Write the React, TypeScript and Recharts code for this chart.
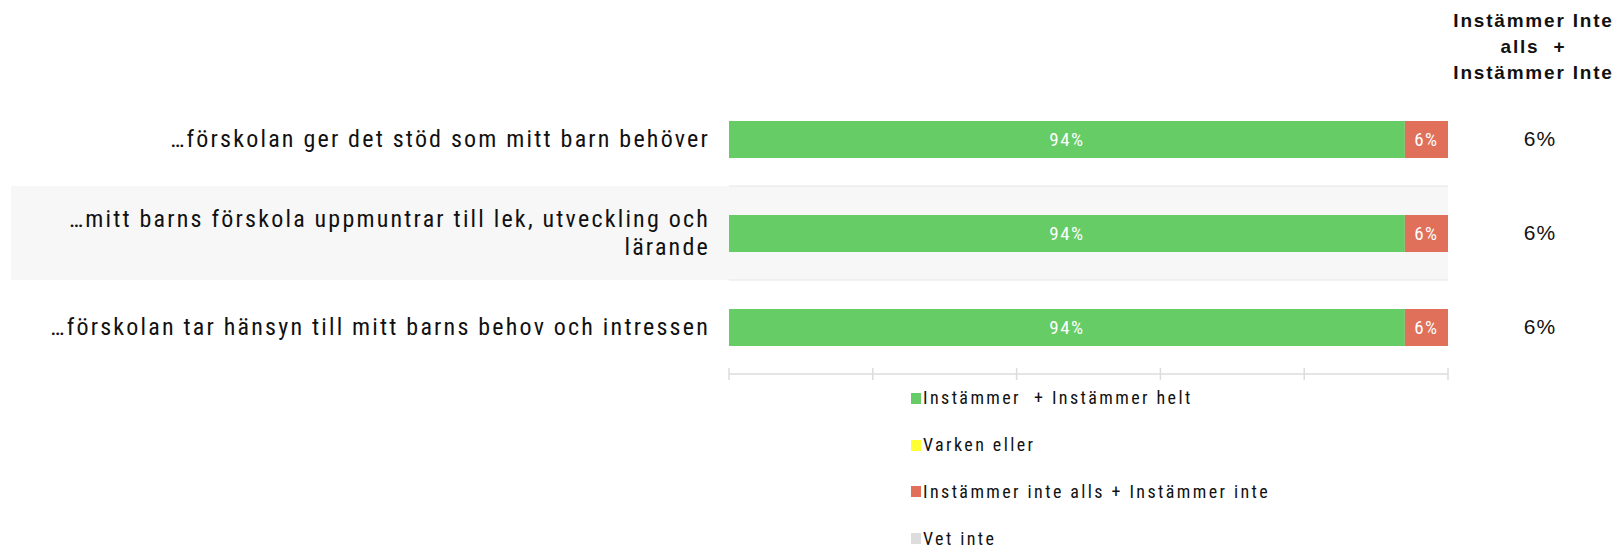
import React from "react";
import {
  Bar,
  BarChart,
  CartesianGrid,
  LabelList,
  Legend,
  XAxis,
  YAxis,
} from "recharts";

const categories = [
  "…förskolan ger det stöd som mitt barn behöver",
  "…mitt barns förskola uppmuntrar till lek, utveckling och lärande",
  "…förskolan tar hänsyn till mitt barns behov och intressen",
];
const agree = [94, 94, 94];
const neutral = [0, 0, 0];
const disagree = [6, 6, 6];
const dontKnow = [0, 0, 0];
const seriesNames = [
  "Instämmer  + Instämmer helt",
  "Varken eller",
  "Instämmer inte alls + Instämmer inte",
  "Vet inte",
];
const xTicks = [0, 20, 40, 60, 80, 100];
const headerLines = ["Instämmer Inte", "alls  +", "Instämmer Inte"];

const data = categories.map((name, i) => ({
  name,
  agree: agree[i],
  neutral: neutral[i],
  disagree: disagree[i],
  dontKnow: dontKnow[i],
}));

const colors = ["#66cc66", "#ffff33", "#e0705a", "#dddddd"];
const keys = ["agree", "neutral", "disagree", "dontKnow"];

const W = 1619;
const H = 547;
const TOP = 92;
const PLOT_BOTTOM = 374;
const BAND = (PLOT_BOTTOM - TOP) / categories.length;
const LABEL_FONT = "'Liberation Sans Narrow', 'Arial Narrow', 'Roboto Condensed', sans-serif";

// simple word wrap by character count
function wrap(text: string, max: number) {
  const words = text.split(" ");
  const lines: string[] = [];
  let cur = "";
  words.forEach((w) => {
    if ((cur + " " + w).trim().length > max) {
      lines.push(cur);
      cur = w;
    } else {
      cur = (cur + " " + w).trim();
    }
  });
  if (cur) lines.push(cur);
  return lines;
}

const CategoryTick = (props: any) => {
  const { x, y, payload, index } = props;
  const lines = wrap(payload.value, 60);
  const lh = 28;
  const start = y - ((lines.length - 1) * lh) / 2;
  return (
    <g>
      {index === 1 && (
        <rect x={11} y={y - BAND / 2} width={x + 19 - 11} height={BAND} fill="#f7f7f7" />
      )}
      <text
        textAnchor="end"
        fill="#111"
        fontFamily={LABEL_FONT}
        fontSize={24}
        letterSpacing={2.2}
      >
        {lines.map((l, i) => (
          <tspan key={i} x={x} y={start + i * lh} dy="0.35em">
            {l}
          </tspan>
        ))}
      </text>
    </g>
  );
};

const ValueTick = (props: any) => {
  const { x, y, index } = props;
  return (
    <text
      x={x}
      y={y}
      dy="0.35em"
      textAnchor="middle"
      fill="#111"
      fontFamily="'Liberation Sans', Arial, sans-serif"
      fontSize={21}
      letterSpacing={1}
    >
      {disagree[index]}%
    </text>
  );
};

const AxisTick = (props: any) => {
  const { x, y } = props;
  return <line x1={x} x2={x} y1={y - 6} y2={y + 6} stroke="#dcdcdc" strokeWidth={1.5} />;
};

const LegendContent = (props: any) => {
  const payload = [...(props.payload || [])].sort(
    (a: any, b: any) => seriesNames.indexOf(a.value) - seriesNames.indexOf(b.value)
  );
  return (
    <div style={{ display: "flex", flexDirection: "column", gap: 0 }}>
      {payload.map((p: any, i: number) => (
        <div
          key={i}
          style={{
            display: "flex",
            alignItems: "center",
            height: 46.8,
            fontFamily: LABEL_FONT,
            fontSize: 18,
            letterSpacing: 2.4,
            lineHeight: "18px",
            color: "#111",
            whiteSpace: "pre",
          }}
        >
          <span
            style={{
              display: "inline-block",
              width: 10,
              height: 11,
              background: p.color,
              marginRight: 2,
            }}
          />
          {p.value}
        </div>
      ))}
    </div>
  );
};

export default function App() {
  return (
    <div style={{ position: "absolute", left: 0, top: 0, width: W, height: H, background: "#fff" }}>
      <div
        style={{
          position: "absolute",
          left: 1448,
          width: 171,
          top: 8,
          textAlign: "center",
          fontFamily: "'Liberation Sans', Arial, sans-serif",
          fontWeight: 700,
          fontSize: 19,
          letterSpacing: 1.8,
          lineHeight: "26px",
          color: "#111",
          whiteSpace: "pre",
        }}
      >
        {headerLines.map((l, i) => (
          <div key={i}>{l}</div>
        ))}
      </div>
      <BarChart
        width={W}
        height={H}
        data={data}
        layout="vertical"
        margin={{ top: TOP, right: 0, bottom: H - PLOT_BOTTOM - 20, left: 0 }}
        barSize={37}
      >
        <CartesianGrid
          yAxisId="left"
          vertical={false}
          stroke="#e6e6e6"
          horizontalFill={["#ffffff", "#f7f7f7", "#ffffff"]}
          fillOpacity={1}
          horizontalCoordinatesGenerator={({ offset }: any) =>
            categories.slice(1).map((_, k) => offset.top + ((k + 1) * offset.height) / categories.length)
          }
        />
        <XAxis
          type="number"
          domain={[0, 100]}
          ticks={xTicks}
          height={20}
          axisLine={{ stroke: "#dcdcdc", strokeWidth: 1.5 }}
          tickLine={false}
          tickSize={0}
          tickMargin={0}
          tick={<AxisTick />}
          interval={0}
        />
        <YAxis
          yAxisId="left"
          type="category"
          dataKey="name"
          width={729}
          axisLine={false}
          tickLine={false}
          tickSize={0}
          tickMargin={19}
          tick={<CategoryTick />}
          interval={0}
        />
        <YAxis
          yAxisId="right"
          orientation="right"
          type="category"
          dataKey="name"
          width={171}
          axisLine={false}
          tickLine={false}
          tickSize={0}
          tickMargin={92}
          tick={<ValueTick />}
          interval={0}
        />
        {keys.map((k, i) => (
          <Bar
            key={k}
            yAxisId="left"
            dataKey={k}
            name={seriesNames[i]}
            stackId="s"
            fill={colors[i]}
            isAnimationActive={false}
          >
            <LabelList
              dataKey={k}
              position="center"
              fill="#ffffff"
              fontFamily={LABEL_FONT}
              fontSize={19}
              letterSpacing={1.5}
              formatter={(v: any) => (v > 0 ? `${v}%` : "")}
            />
          </Bar>
        ))}
        <Legend
          layout="vertical"
          align="center"
          verticalAlign="middle"
          content={<LegendContent />}
          wrapperStyle={{ top: 375, left: 911, width: "auto" }}
        />
      </BarChart>
    </div>
  );
}
